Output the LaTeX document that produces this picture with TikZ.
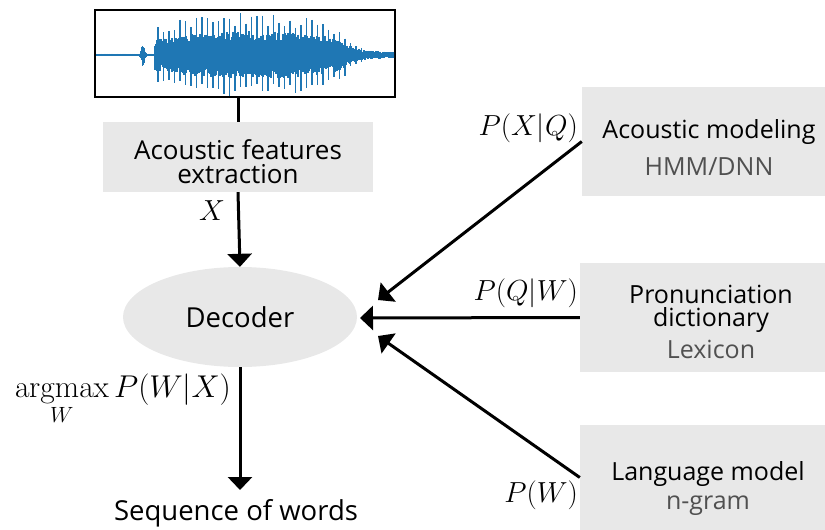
\RequirePackage{fix-cm}
\documentclass[tikz,border=0pt]{standalone}
\usepackage{amsmath}
\usepackage[no-math]{fontspec}
\setmainfont{Open Sans}
\usetikzlibrary{arrows.meta,shapes.geometric}
\definecolor{boxgray}{HTML}{E8E8E8}
\definecolor{wave}{HTML}{1F77B4}
\definecolor{subgray}{HTML}{505050}
\begin{document}
\begin{tikzpicture}[x=1pt,y=-1pt,
  graybox/.style={fill=boxgray,draw=none,inner sep=0pt},
  boxtext/.style={align=center,inner sep=0pt,font=\fontsize{25}{23.5}\selectfont},
  conn/.style={line width=3pt},
  arr/.style={line width=3pt,-{Triangle[length=13pt,width=24pt]}},
  mlabel/.style={font=\fontsize{29}{30}\selectfont,inner sep=0pt}]
\useasboundingbox (0,0) rectangle (825,530);
% waveform
\node[draw=black,line width=1.5pt,fill=white,minimum width=300pt,minimum height=87pt,inner sep=0pt] (wavebox) at (245,53.5) {};
\begin{scope}
\clip (95.8,10.8) rectangle (394.2,96.2);
\pgfmathsetseed{11}
% silence / noise
\foreach \x in {96,97,...,155}{
  \pgfmathsetmacro{\env}{1.2 + 12*exp(-min(((\x-142.5)/2.2)^2,20))}
  \pgfmathsetmacro{\a}{\env*(0.6+0.4*rnd)}
  \pgfmathsetmacro{\b}{\env*(0.6+0.4*rnd)}
  \draw[wave,line width=1pt] (\x,55-\a) -- (\x,55+\b);
}
% core
\foreach \x in {155,156,...,394}{
  \pgfmathsetmacro{\env}{(\x<340) ? (24 - 8*((\x-250)/92)^2) : (3 + 14*exp(-max(\x-340,0)/13))}
  \pgfmathsetmacro{\a}{\env*(0.6+0.4*rnd)}
  \pgfmathsetmacro{\b}{\env*(0.6+0.4*rnd)}
  \draw[wave,line width=1.1pt] (\x,55-\a) -- (\x,55+\b);
}
% spikes
\foreach \x in {158,163.5,...,362}{
  \pgfmathsetmacro{\core}{(\x<340) ? (21 - 7*((\x-250)/92)^2) : (3 + 14*exp(-max(\x-340,0)/13))}
  \pgfmathsetmacro{\sp}{(\x<340) ? (43 - 13*((\x-250)/92)^2) : (4 + 28*exp(-max(\x-340,0)/10))}
  \pgfmathsetmacro{\a}{\core+(\sp-\core)*(0.35+0.65*rnd)}
  \pgfmathsetmacro{\b}{\core+(\sp-\core)*(0.35+0.65*rnd)}
  \draw[wave,line width=1.7pt] (\x,55-\a) -- (\x,55+\b);
}
\end{scope}
% features box
\node[graybox,minimum width=270pt,minimum height=70pt] (feat) at (238,157) {};
\node[boxtext,font=\fontsize{26}{24}\selectfont] (featt) at (238,162) {Acoustic features\\extraction};
% decoder
\node[ellipse,fill=boxgray,minimum width=234pt,minimum height=100pt,inner sep=0pt,
  font=\fontsize{27.5}{28}\selectfont] (dec) at (240,317) {Decoder};
% output
\node[font=\fontsize{27.5}{28}\selectfont,inner sep=0pt,anchor=base] (out) at (236,520) {Sequence of words};
% right boxes
\node[graybox,minimum width=243pt,minimum height=109pt] (am) at (703.5,141.5) {};
\node[boxtext] (amt) at (709,147.5) {Acoustic modeling\\[13pt]{\color{subgray}HMM/DNN}};
\node[graybox,minimum width=245pt,minimum height=109pt] (pd) at (702.5,317.5) {};
\node[boxtext] (pdt) at (711,322) {Pronunciation\\dictionary\\[7pt]{\color{subgray}Lexicon}};
\node[graybox,minimum width=245pt,minimum height=105pt] (lm) at (702.5,477.5) {};
\node[boxtext] (lmt) at (708,488.5) {Language model\\[6pt]{\color{subgray}n-gram}};
% connectors
\draw[conn] (feat.north) -- (feat.north |- wavebox.south);
\draw[arr] (feat.south) -- (dec.north);
\coordinate (outtip) at (240,490);
\draw[arr] (dec.south) -- (outtip);
\coordinate (tipA) at (378,300);
\coordinate (tipB) at (360,318);
\coordinate (tipC) at (378,336);
\draw[arr] (am.west) -- (tipA);
\draw[arr] (pd.west) -- (tipB);
\draw[arr] (lm.west) -- (tipC);
% labels
\node[mlabel,anchor=base] (lx) at (212,220) {$X$};
\node[mlabel,font=\fontsize{31.5}{32}\selectfont,anchor=base east] (lout) at (231,397) {$\displaystyle\operatorname*{argmax}_W P(W|X)$};
\node[mlabel,anchor=base east] (lxq) at (578,135) {$P(X|Q)$};
\node[mlabel,anchor=base east] (lqw) at (578,300) {$P(Q|W)$};
\node[mlabel,anchor=base east] (lw) at (578,502) {$P(W)$};
\end{tikzpicture}
\end{document}
